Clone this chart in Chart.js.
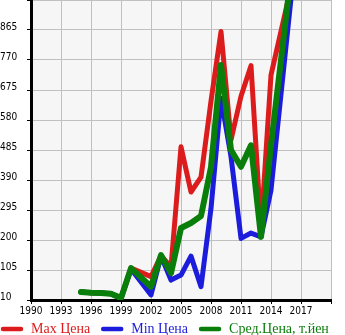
<!DOCTYPE html>
<html lang="ru">
<head>
    <meta charset="UTF-8">
    <title>Цены по годам</title>
    <style>
        body {
            margin: 0;
            padding: 0;
            background: #ffffff;
        }

        .wrap {
            width: 345px;
            height: 335px;
        }
    </style>
</head>
<body>
    <div class="wrap">
        <canvas id="priceChart" width="345" height="335"></canvas>
    </div>

    <script src="https://cdn.jsdelivr.net/npm/chart.js"></script>
    <script>
        // Data by year (null = no value that year)
        const years = [1995, 1996, 1997, 1998, 1999, 2000, 2002, 2003, 2004, 2005, 2006, 2007, 2008, 2009, 2010, 2011, 2012, 2013, 2014, 2016];
        const maxPrice = [35, 33, 32, 30, 16, 111, 84, 150, 115, 495, 352, 399, 640, 860, 517, 655, 752, 235, 722, 1000];
        const minPrice = [35, 33, 32, 30, 16, 108, 26, 149, 73, 89, 149, 52, 300, 649, 464, 205, 222, 210, 358, 965];
        const avgPrice = [35, 33, 32, 30, 16, 111, 52, 152, 95, 238, 254, 276, 431, 754, 485, 432, 500, 210, 500, 1040];

        const seriesNames = ['Max Цена', 'Min Цена', 'Сред.Цена, т.йен'];
        const seriesColors = ['#dc1c1c', '#1c1cdc', '#0a7e0a'];

        const xTicks = { min: 1990, max: 2020, step: 3 };
        const yTicks = { min: 10, max: 960, step: 95 };

        const tickFont = '10px "DejaVu Sans Condensed", "DejaVu Sans", sans-serif';

        function toPoints(values) {
            return years.map((year, i) => ({ x: year, y: values[i] }));
        }

        // light grey plot background
        const plotBackground = {
            id: 'plotBackground',
            beforeDraw(chart) {
                const { ctx, chartArea } = chart;
                ctx.save();
                ctx.fillStyle = '#f6f6f6';
                ctx.fillRect(chartArea.left, chartArea.top, chartArea.right - chartArea.left, chartArea.bottom - chartArea.top);
                ctx.restore();
            }
        };

        // y labels sit flush left, just above their grid line
        const yLabels = {
            id: 'yLabels',
            afterDraw(chart) {
                const { ctx } = chart;
                const scale = chart.scales.y;
                ctx.save();
                ctx.font = tickFont;
                ctx.fillStyle = '#000000';
                ctx.textAlign = 'left';
                ctx.textBaseline = 'alphabetic';
                scale.ticks.forEach(t => {
                    if (t.value >= yTicks.max) return;
                    const y = scale.getPixelForValue(t.value);
                    ctx.fillText(String(t.value), 0, y - 0.5);
                });
                ctx.restore();
            }
        };

        // legend row: short thick line + coloured serif text
        const lineLegend = {
            id: 'lineLegend',
            afterDraw(chart) {
                const { ctx } = chart;
                const y = 329;
                let x = 1;
                ctx.save();
                ctx.font = '14px "Liberation Serif", "DejaVu Serif", serif';
                ctx.textBaseline = 'middle';
                ctx.textAlign = 'left';
                chart.data.datasets.forEach(ds => {
                    ctx.strokeStyle = ds.borderColor;
                    ctx.lineWidth = 4.5;
                    ctx.lineCap = 'round';
                    ctx.beginPath();
                    ctx.moveTo(x + 2, y);
                    ctx.lineTo(x + 20, y);
                    ctx.stroke();
                    ctx.fillStyle = ds.borderColor;
                    ctx.fillText(ds.label, x + 30, y);
                    x += 30 + ctx.measureText(ds.label).width + 11;
                });
                ctx.restore();
            }
        };

        function lineDataset(i, values, width, order) {
            return {
                label: seriesNames[i],
                data: toPoints(values),
                borderColor: seriesColors[i],
                backgroundColor: seriesColors[i],
                borderWidth: width,
                borderJoinStyle: 'round',
                borderCapStyle: 'round',
                pointRadius: 0,
                tension: 0,
                spanGaps: true,
                order: order
            };
        }

        new Chart(document.getElementById('priceChart'), {
            type: 'line',
            data: {
                datasets: [
                    lineDataset(0, maxPrice, 5, 2),
                    lineDataset(1, minPrice, 5, 1),
                    lineDataset(2, avgPrice, 6, 0)
                ]
            },
            options: {
                responsive: false,
                animation: false,
                layout: { padding: { top: 0, right: 14, bottom: 0, left: 0 } },
                plugins: {
                    legend: { display: false },
                    tooltip: { enabled: false }
                },
                scales: {
                    x: {
                        type: 'linear',
                        min: xTicks.min,
                        max: xTicks.max,
                        afterFit(scale) { scale.height = 35; },
                        ticks: {
                            stepSize: xTicks.step,
                            autoSkip: false,
                            maxRotation: 0,
                            padding: 1,
                            color: '#000000',
                            font: { family: '"DejaVu Sans Condensed", "DejaVu Sans", sans-serif', size: 10 },
                            callback: v => (v >= xTicks.max ? '' : String(v))
                        },
                        grid: { color: '#c0c0c0', lineWidth: 1, tickColor: '#000000', tickLength: 4 },
                        border: { color: '#000000', width: 3 }
                    },
                    y: {
                        min: yTicks.min,
                        max: yTicks.max,
                        afterFit(scale) { scale.width = 31; },
                        ticks: { stepSize: yTicks.step, display: false },
                        grid: { color: '#c0c0c0', lineWidth: 1, tickColor: '#000000', tickLength: 4 },
                        border: { color: '#000000', width: 3 }
                    }
                }
            },
            plugins: [plotBackground, yLabels, lineLegend]
        });
    </script>
</body>
</html>
